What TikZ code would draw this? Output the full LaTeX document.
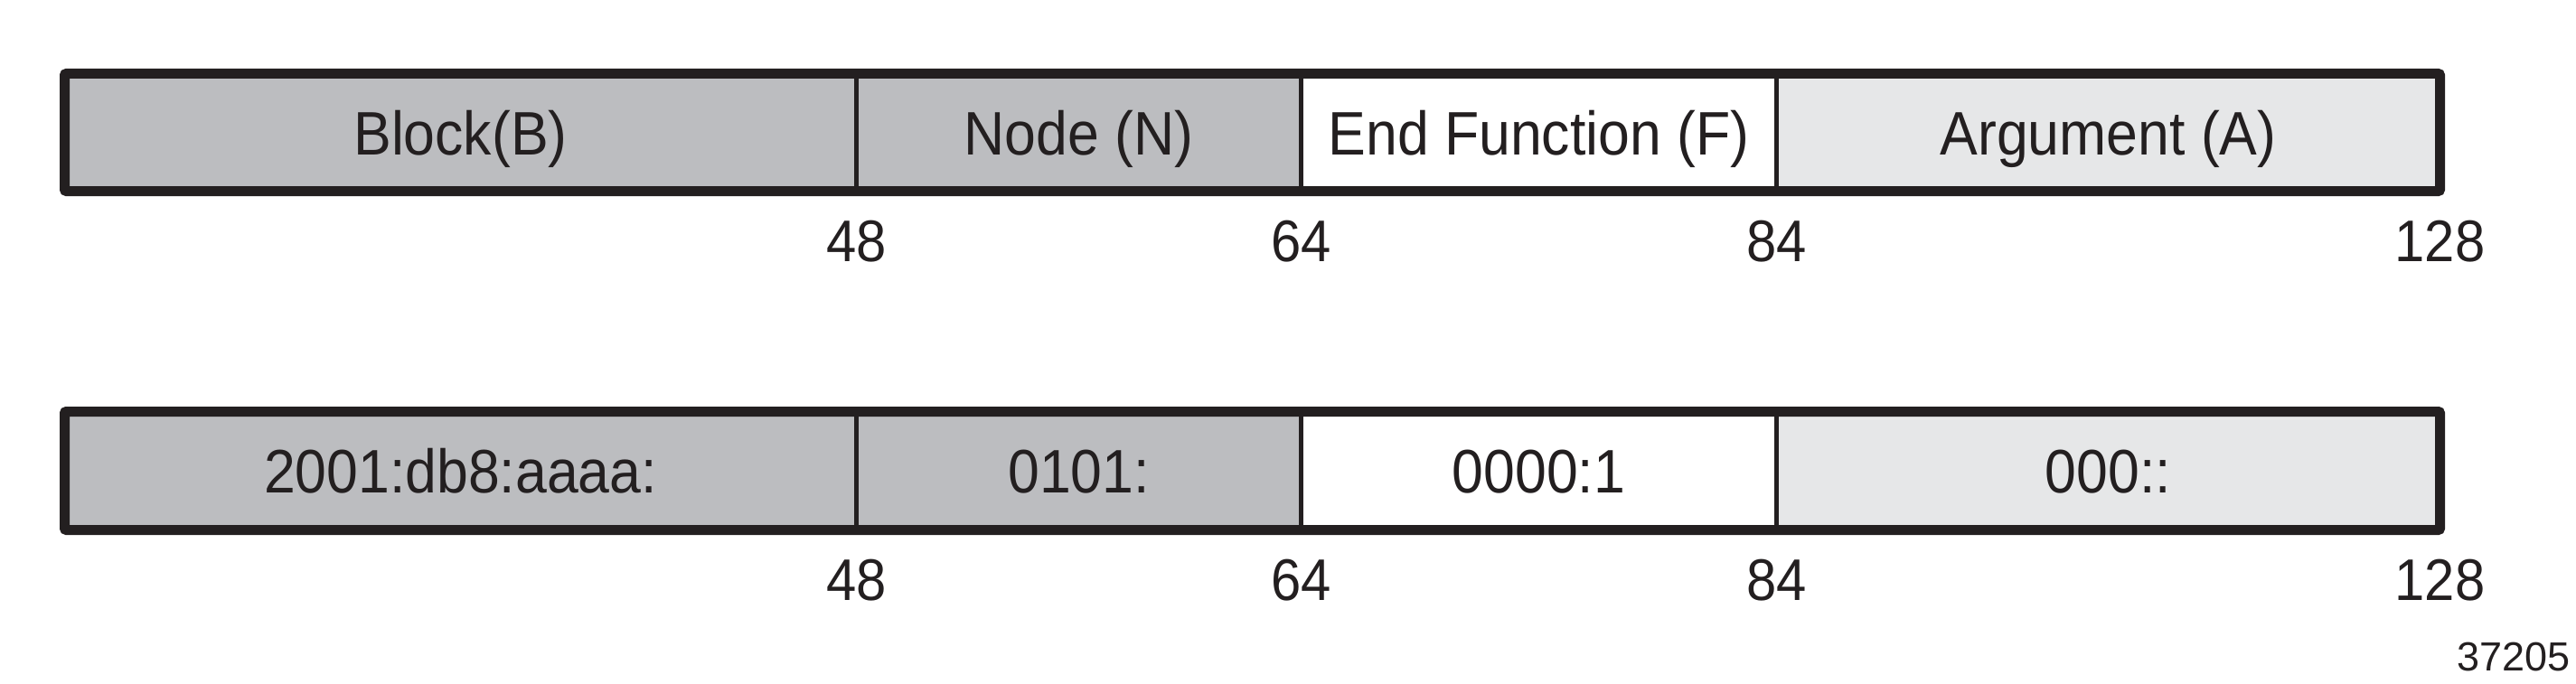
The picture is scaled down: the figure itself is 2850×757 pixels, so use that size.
\documentclass[tikz,border=0pt]{standalone}
\usepackage{fontspec}
\setmainfont{Liberation Sans}
\newfontfamily\narrowsans[FakeStretch=0.92]{Liberation Sans}
\usetikzlibrary{positioning}
\definecolor{ink}{HTML}{231F20}
\definecolor{darkfield}{HTML}{BCBDC0}
\definecolor{lightfield}{HTML}{E6E7E8}
\tikzset{
  field/.style={draw=ink, line width=5pt, minimum height=130pt, inner sep=0pt, outer sep=0pt,
    text height=49pt, text depth=0pt,
    anchor=west, text=ink, font=\narrowsans\fontsize{68}{76}\selectfont},
  bitlabel/.style={text=ink, font=\narrowsans\fontsize{65}{72}\selectfont},
  frame/.style={draw=ink, line width=11pt, rounded corners=2pt}
}
\begin{document}
\begin{tikzpicture}[x=1pt,y=-1pt]
  \useasboundingbox (0,0) rectangle (2850,757);
  % address format
  \node[field, fill=darkfield, minimum width=876pt] (b1) at (71.5,146.5) {Block(B)};
  \node[field, fill=darkfield, minimum width=492pt] (n1) at (b1.east) {Node (N)};
  \node[field, fill=white, minimum width=526pt] (f1) at (n1.east) {End Function (F)};
  \node[field, fill=lightfield, minimum width=734pt] (a1) at (f1.east) {Argument (A)};
  \draw[frame] (b1.north west) rectangle (a1.south east);
  % example address
  \node[field, fill=darkfield, minimum width=876pt, minimum height=131pt] (b2) at (71.5,521) {2001:db8:aaaa:};
  \node[field, fill=darkfield, minimum width=492pt, minimum height=131pt] (n2) at (b2.east) {0101:};
  \node[field, fill=white, minimum width=526pt, minimum height=131pt] (f2) at (n2.east) {0000:1};
  \node[field, fill=lightfield, minimum width=734pt, minimum height=131pt] (a2) at (f2.east) {000::};
  \draw[frame] (b2.north west) rectangle (a2.south east);
  % bit positions
  \path (b1.south east) ++(0,56) node[bitlabel] (p48a) {48};
  \path (n1.south east) ++(0,56) node[bitlabel] (p64a) {64};
  \path (f1.south east) ++(0,56) node[bitlabel] (p84a) {84};
  \path (a1.south east) ++(0,56) node[bitlabel] (p128a) {128};
  \path (b2.south east) ++(0,56) node[bitlabel] (p48b) {48};
  \path (n2.south east) ++(0,56) node[bitlabel] (p64b) {64};
  \path (f2.south east) ++(0,56) node[bitlabel] (p84b) {84};
  \path (a2.south east) ++(0,56) node[bitlabel] (p128b) {128};
  \node[anchor=east, inner sep=0pt, text=ink, font=\fontsize{45}{50}\selectfont] (fig) at (2844,727.5) {37205};
\end{tikzpicture}
\end{document}
